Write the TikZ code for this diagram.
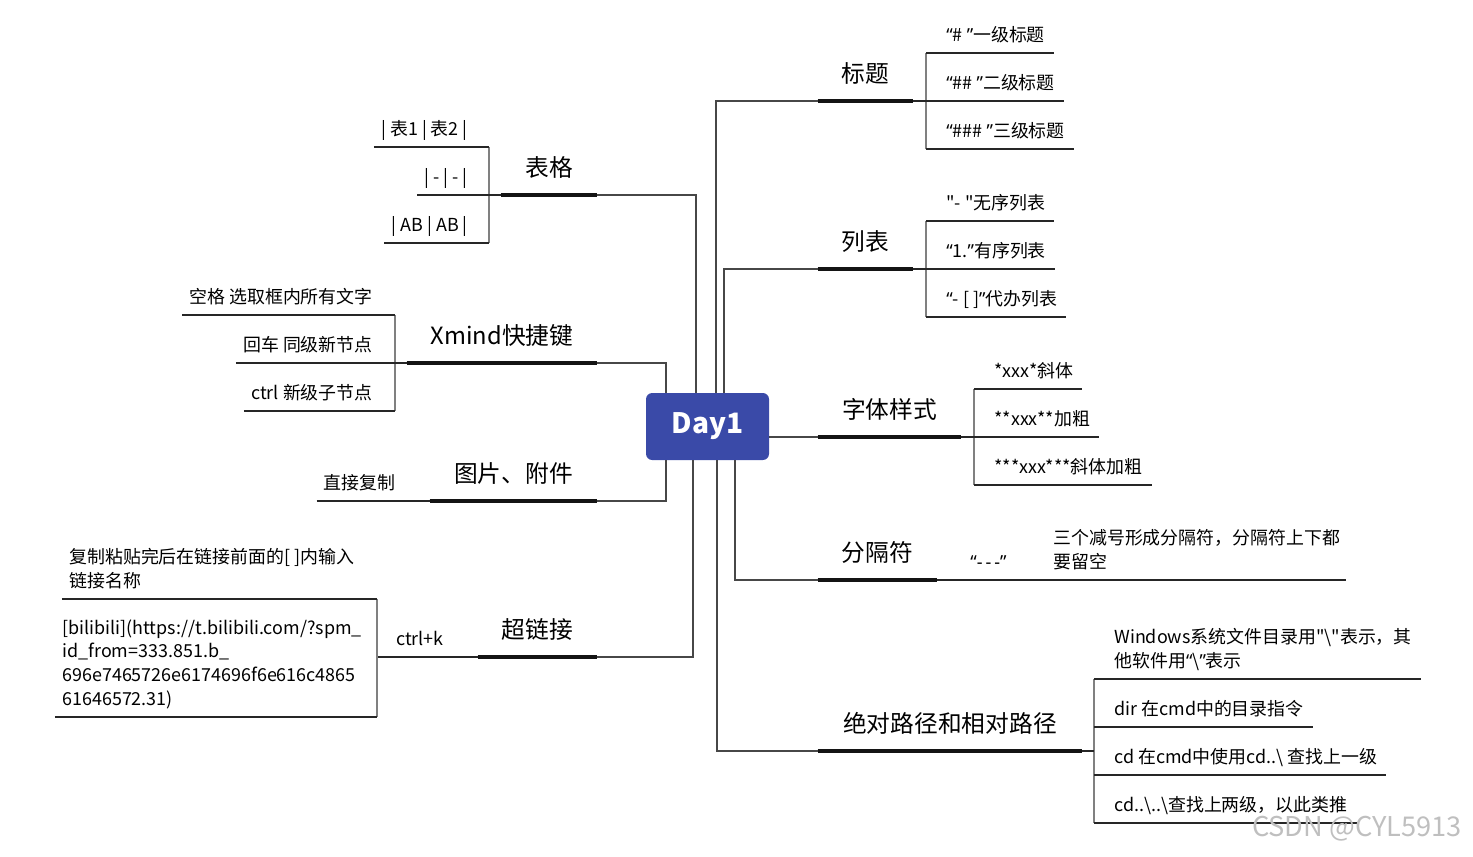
\documentclass[tikz,border=0pt]{standalone}
\usepackage{fontspec}
\usepackage{xcolor}
\usepackage{tikz}
\usetikzlibrary{positioning, calc}
\newfontfamily\cjk{Noto Sans CJK SC}
\newfontfamily\latin{Noto Sans}
\newcommand\oq{{\latin “}}
\newcommand\cq{{\latin ”}}
\definecolor{dayblue}{HTML}{3A4AA8}
\tikzset{
    root/.style={rectangle, rounded corners=3.5pt, fill=dayblue, text=white, minimum width=2.46cm, minimum height=1.34cm, font=\cjk\fontsize{16}{18}\selectfont\bfseries},
    topic/.style={anchor=south, inner xsep=0pt, inner ysep=0pt, text depth=10.2pt, font=\cjk\fontsize{13.5}{16}\selectfont},
    leaf/.style={anchor=south west, inner sep=0pt, text depth=6.2pt, align=left, font=\cjk\fontsize{10.2}{13.6}\selectfont},
    leafl/.style={leaf, anchor=south east},
    bar/.style={line width=2.8pt, draw=black!92},
    link/.style={line width=0.8pt, draw=black!72},
    fork/.style={line width=0.8pt, draw=black!50},
    twig/.style={line width=0.8pt, draw=black!85}
}

\begin{document}
\begin{tikzpicture}[x=0.02cm, y=-0.02cm]
  \useasboundingbox (0,0) rectangle (1473,856);
  \node[root] (day) at (707.5,426.5) {Day1};
  % right side
  \node[topic, minimum width=1.9cm] (tit) at (865.5,101) {标题};
  \node[topic, minimum width=1.9cm] (lst) at (865.5,269) {列表};
  \node[topic, minimum width=2.86cm] (fnt) at (889.5,437) {字体样式};
  \node[topic, minimum width=2.38cm] (sep) at (877.5,580) {分隔符};
  \node[topic, minimum width=5.28cm] (pth) at (950,751) {绝对路径和相对路径};
  % left side
  \node[topic, minimum width=1.92cm] (tbl) at (549,195) {表格};
  \node[topic, minimum width=3.8cm] (xmd) at (502,363) {Xmind快捷键};
  \node[topic, minimum width=3.34cm] (img) at (513.5,501) {图片、附件};
  \node[topic, minimum width=2.38cm] (lnk) at (537.5,657) {超链接};
  \draw[bar] (tit.south west) -- (tit.south east);
  \draw[bar] (lst.south west) -- (lst.south east);
  \draw[bar] (fnt.south west) -- (fnt.south east);
  \draw[bar] (sep.south west) -- (sep.south east);
  \draw[bar] (pth.south west) -- (pth.south east);
  \draw[bar] (tbl.south west) -- (tbl.south east);
  \draw[bar] (xmd.south west) -- (xmd.south east);
  \draw[bar] (img.south west) -- (img.south east);
  \draw[bar] (lnk.south west) -- (lnk.south east);
  \draw[link] (day.north) ++(8.5,0) |- (tit.south west);
  \draw[link] (day.north) ++(16.5,0) |- (lst.south west);
  \draw[link] (day.east |- fnt.south) -- (fnt.south west);
  \draw[link] (day.south) ++(27.5,0) |- (sep.south west);
  \draw[link] (day.south) ++(9.5,0) |- (pth.south west);
  \draw[link] (day.north) ++(-11.5,0) |- (tbl.south east);
  \draw[link] (day.north) ++(-41.5,0) |- (xmd.south east);
  \draw[link] (day.south) ++(-41.5,0) |- (img.south east);
  \draw[link] (day.south) ++(-14.5,0) |- (lnk.south east);

  % 标题
  \coordinate (titk) at (926,101);
  \node[leaf] (tit1) at (946,53) {\oq\# \cq{}一级标题};
  \node[leaf] (tit2) at (946,101) {\oq\#\# \cq{}二级标题};
  \node[leaf] (tit3) at (946,149) {\oq\#\#\# \cq{}三级标题};
  \draw[fork] (titk |- tit1.south) -- (titk |- tit3.south);
  \draw[twig] (titk |- tit1.south) -- ([xshift=5pt]tit1.south east);
  \draw[twig] (tit.south east) -- ([xshift=5pt]tit2.south east);
  \draw[twig] (titk |- tit3.south) -- ([xshift=5pt]tit3.south east);
  % 列表
  \coordinate (lstk) at (926,269);
  \node[leaf] (lst1) at (946,221) {"- "无序列表};
  \node[leaf] (lst2) at (946,269) {\oq 1.\cq{}有序列表};
  \node[leaf] (lst3) at (946,317) {\oq- [ ]\cq{}代办列表};
  \draw[fork] (lstk |- lst1.south) -- (lstk |- lst3.south);
  \draw[twig] (lstk |- lst1.south) -- ([xshift=5pt]lst1.south east);
  \draw[twig] (lst.south east) -- ([xshift=5pt]lst2.south east);
  \draw[twig] (lstk |- lst3.south) -- ([xshift=5pt]lst3.south east);
  % 字体样式
  \coordinate (fntk) at (974,437);
  \node[leaf] (fnt1) at (994,389) {*xxx*斜体};
  \node[leaf] (fnt2) at (994,437) {**xxx**加粗};
  \node[leaf] (fnt3) at (994,485) {***xxx***斜体加粗};
  \draw[fork] (fntk |- fnt1.south) -- (fntk |- fnt3.south);
  \draw[twig] (fntk |- fnt1.south) -- ([xshift=5pt]fnt1.south east);
  \draw[twig] (fnt.south east) -- ([xshift=5pt]fnt2.south east);
  \draw[twig] (fntk |- fnt3.south) -- ([xshift=5pt]fnt3.south east);
  % 分隔符
  \node[leaf] (sep1) at (970,580) {\oq{\latin -\,-\,-}\cq};
  \node[leaf] (sep2) at (1053,580) {三个减号形成分隔符，分隔符上下都\\要留空};
  \draw[twig] (sep.south east) -- ([xshift=3pt]sep2.south east);
  % 绝对路径和相对路径
  \coordinate (pthk) at (1094,751);
  \node[leaf] (pth1) at (1114,679) {Windows系统文件目录用"\textbackslash{}"表示，其\\他软件用\oq\textbackslash{}\cq{}表示};
  \node[leaf] (pth2) at (1114,727) {dir 在cmd中的目录指令};
  \node[leaf] (pth3) at (1114,775) {cd 在cmd中使用cd..\textbackslash{} 查找上一级};
  \node[leaf] (pth4) at (1114,823) {cd..\textbackslash{}..\textbackslash{}查找上两级，以此类推};
  \draw[fork] (pthk |- pth1.south) -- (pthk |- pth4.south);
  \draw[twig] (pth.south east) -- (pthk);
  \draw[twig] (pthk |- pth1.south) -- ([xshift=5pt]pth1.south east);
  \draw[twig] (pthk |- pth2.south) -- ([xshift=5pt]pth2.south east);
  \draw[twig] (pthk |- pth3.south) -- ([xshift=5pt]pth3.south east);
  \draw[twig] (pthk |- pth4.south) -- ([xshift=5pt]pth4.south east);

  % 表格
  \coordinate (tblk) at (489,195);
  \node[leafl] (tbl1) at (468,147) {| 表1 | 表2 |};
  \node[leafl] (tbl2) at (468,195) {| - | - |};
  \node[leafl] (tbl3) at (468,243) {| AB | AB |};
  \draw[fork] (tblk |- tbl1.south) -- (tblk |- tbl3.south);
  \draw[twig] ([xshift=-4pt]tbl1.south west) -- (tblk |- tbl1.south);
  \draw[twig] ([xshift=-4pt]tbl2.south west) -- (tbl.south west);
  \draw[twig] ([xshift=-4pt]tbl3.south west) -- (tblk |- tbl3.south);
  % Xmind快捷键
  \coordinate (xmdk) at (395,363);
  \node[leafl] (xmd1) at (373,315) {空格 选取框内所有文字};
  \node[leafl] (xmd2) at (373,363) {回车 同级新节点};
  \node[leafl] (xmd3) at (373,411) {ctrl 新级子节点};
  \draw[fork] (xmdk |- xmd1.south) -- (xmdk |- xmd3.south);
  \draw[twig] ([xshift=-4pt]xmd1.south west) -- (xmdk |- xmd1.south);
  \draw[twig] ([xshift=-4pt]xmd2.south west) -- (xmd.south west);
  \draw[twig] ([xshift=-4pt]xmd3.south west) -- (xmdk |- xmd3.south);
  % 图片、附件
  \node[leafl] (img1) at (396,501) {直接复制};
  \draw[twig] ([xshift=-4pt]img1.south west) -- (img.south west);
  % 超链接
  \coordinate (lnkk) at (377,657);
  \node[leafl] (lnk1) at (444,657) {ctrl+k};
  \node[leaf] (lnk2) at (69,599) {复制粘贴完后在链接前面的[ ]内输入\\链接名称};
  \node[leaf] (lnk3) at (62,717) {[bilibili](https://t.bilibili.com/?spm\_\\id\_from=333.851.b\_\\696e7465726e6174696f6e616c4865\\61646572.31)};
  \draw[twig] (lnkk |- lnk1.south) -- (lnk.south west);
  \draw[fork] (lnkk |- lnk2.south) -- (lnkk |- lnk3.south);
  \draw[twig] ([xshift=-4pt]lnk2.south west) -- (lnkk |- lnk2.south);
  \draw[twig] ([xshift=-4pt]lnk3.south west) -- (lnkk |- lnk3.south);

  \node[text=black!25, font=\cjk\fontsize{15.5}{18}\selectfont] (wmk) at (1357,829) {CSDN @CYL5913};
\end{tikzpicture}
\end{document}
